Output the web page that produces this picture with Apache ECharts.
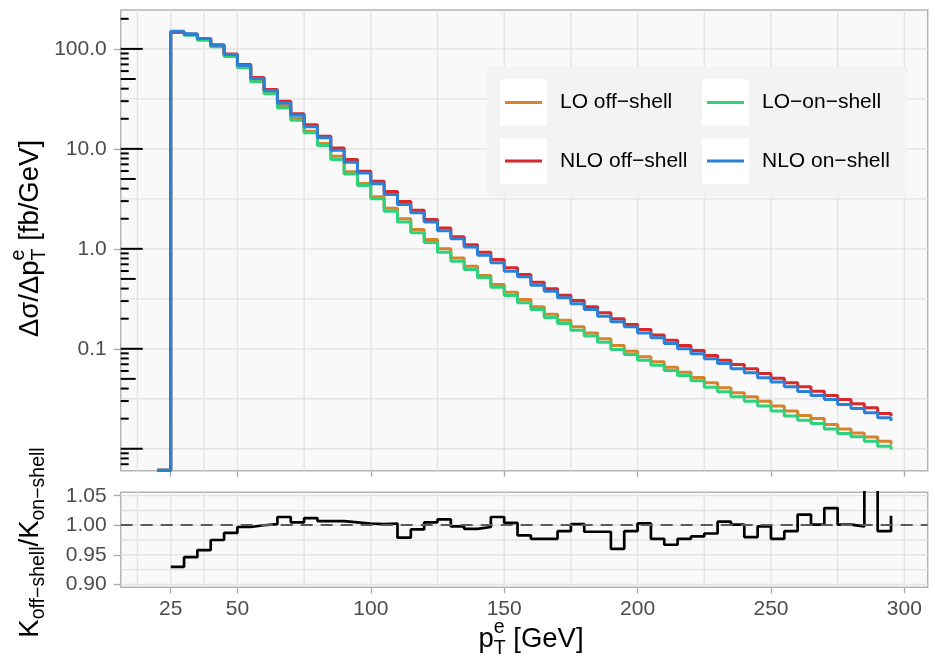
<!DOCTYPE html>
<html><head><meta charset="utf-8">
<script src="https://cdn.jsdelivr.net/npm/echarts@6/dist/echarts.min.js"></script>
<style>html,body{margin:0;padding:0;background:#fff}#c{width:935px;height:661px}</style>
</head><body><div id="c"></div>
<script>
// ---------- data ----------
const pTEdges = [20,25,30,35,40,45,50,55,60,65,70,75,80,85,90,95,100,105,110,115,120,125,130,135,140,145,150,155,160,165,170,175,180,185,190,195,200,205,210,215,220,225,230,235,240,245,250,255,260,265,270,275,280,285,290,295];
const loOffShell = [0.0061,147,139,124,106,85.7,66.1,48.5,36.8,27.1,20.1,15.0,11.3,8.43,5.89,4.50,3.31,2.55,2.00,1.56,1.24,1.00,0.81,0.67,0.54,0.44,0.368,0.311,0.263,0.222,0.193,0.166,0.144,0.126,0.108,0.0946,0.0832,0.0741,0.0655,0.0583,0.0516,0.0457,0.0407,0.0363,0.0331,0.0299,0.0267,0.0238,0.0215,0.0201,0.0175,0.0158,0.0144,0.0131,0.0119,0.0110];
const nloOffShell = [0.0061,147,140,127,110,89.1,69.7,51.6,39.2,29.9,22.5,17.4,13.4,10.2,7.82,5.97,4.74,3.74,2.97,2.43,1.96,1.62,1.32,1.10,0.925,0.78,0.645,0.553,0.464,0.398,0.344,0.304,0.263,0.229,0.200,0.175,0.156,0.137,0.122,0.108,0.0962,0.0857,0.0769,0.0697,0.0631,0.0566,0.0508,0.0457,0.0417,0.0377,0.0341,0.0311,0.0282,0.0257,0.0225,0.0212];
const loOnShell = [0.0061,147,137,122,105,83.8,64.6,46.8,35.5,25.7,19.3,14.5,10.8,7.82,5.62,4.30,3.16,2.38,1.86,1.45,1.16,0.925,0.752,0.621,0.513,0.413,0.341,0.288,0.247,0.206,0.179,0.153,0.134,0.116,0.0984,0.0877,0.0769,0.0686,0.0607,0.0541,0.0479,0.0413,0.0371,0.0331,0.0299,0.0267,0.0238,0.0212,0.0193,0.0179,0.0158,0.0142,0.0132,0.0119,0.0106,0.0098];
const nloOnShell = [0.0061,150,142,127,109,87.7,68.1,50.5,38.3,28.8,21.7,16.6,12.9,9.68,7.35,5.75,4.47,3.49,2.77,2.29,1.85,1.52,1.26,1.04,0.863,0.724,0.597,0.525,0.433,0.377,0.324,0.282,0.247,0.212,0.186,0.166,0.144,0.129,0.113,0.100,0.0891,0.0794,0.0713,0.0631,0.0575,0.0513,0.0464,0.0417,0.0374,0.0341,0.0311,0.0277,0.0253,0.0229,0.0204,0.0189];
const ratioEdges = [25,30,35,40,45,50,55,60,65,70,75,80,85,90,95,100,105,110,115,120,125,130,135,140,145,150,155,160,165,170,175,180,185,190,195,200,205,210,215,220,225,230,235,240,245,250,255,260,265,270,275,280,285,290,295];
const kRatio = [0.9295,0.946,0.958,0.975,0.987,0.997,1.000,1.002,1.014,1.005,1.012,1.007,1.007,1.005,1.003,1.002,1.003,0.979,0.993,1.005,1.010,0.998,0.994,0.997,1.014,1.004,0.983,0.977,0.977,0.990,1.002,0.989,0.989,0.960,0.990,1.003,0.977,0.967,0.977,0.981,0.986,1.006,1.001,0.980,0.998,0.977,0.990,1.018,1.001,1.029,1.001,0.998,1.090,0.990,1.016];
const xTickValues = [25,50,100,150,200,250,300];
const xGridValues = [12.5,25,37.5,50,75,100,125,150,175,200,225,250,275,300];
const yTickValues = [0.1,1,10,100];
const yGridValues = [0.01,0.0316228,0.1,0.316228,1,3.16228,10,31.6228,100];
const ratioTickValues = [0.90,0.95,1.00,1.05];
const ratioGridValues = [0.90,0.925,0.95,0.975,1.00,1.025,1.05];
const seriesNames = ['LO off\u2212shell','LO\u2212on\u2212shell','NLO off\u2212shell','NLO on\u2212shell'];
const seriesColors = ['#D8822C','#2DD27B','#D7282B','#2B80D8'];

// ---------- layout / style ----------
const FONT = '"Liberation Sans", Arial, Helvetica, sans-serif';
const X_MIN = 6.25, X_MAX = 308.75;
const Y_MIN = 0.00603, Y_MAX = 245;
const R_MIN = 0.8949, R_MAX = 1.0558;
const GRID_COLOR = '#e2e2e2';
const TICK_COLOR = '#a8a8a8';

const pair = (xs, ys) => xs.map((x, i) => [x, ys[i]]);

function histSeries(idx, ys, z) {
  const c = seriesColors[idx];
  return {name: seriesNames[idx], type: 'line', xAxisIndex: 0, yAxisIndex: 0, step: 'end',
    data: pair(pTEdges, ys), symbol: 'none', showSymbol: false, z: z,
    color: c, itemStyle: {color: c}, lineStyle: {color: c, width: 3}, animation: false};
}
function vGrid(gi, yRef) {
  return {type: 'custom', xAxisIndex: gi, yAxisIndex: gi, z: 1, silent: true, animation: false,
    data: xGridValues.map(v => [v, yRef]),
    renderItem(params, api) {
      const cs = params.coordSys; const x = api.coord([api.value(0), yRef])[0];
      return {type: 'line', shape: {x1: x, y1: cs.y, x2: x, y2: cs.y + cs.height},
        style: {stroke: GRID_COLOR, lineWidth: 1.3}};
    }};
}
function hGrid(gi, vals) {
  return {type: 'custom', xAxisIndex: gi, yAxisIndex: gi, z: 1, silent: true, animation: false,
    data: vals.map(v => [100, v]),
    renderItem(params, api) {
      const cs = params.coordSys; const y = api.coord([100, api.value(1)])[1];
      return {type: 'line', shape: {x1: cs.x, y1: y, x2: cs.x + cs.width, y2: y},
        style: {stroke: GRID_COLOR, lineWidth: 1.3}};
    }};
}
// annotation log ticks (positions at m*10^k)
const logTicks = [];
for (let k = -3; k <= 2; k++) for (let m = 1; m <= 9; m++) {
  const v = m * Math.pow(10, k);
  if (v >= Y_MIN && v <= Y_MAX) logTicks.push([X_MIN, v, m === 1 ? 22 : (m === 5 ? 15 : 8)]);
}
const logTickSeries = {type: 'custom', xAxisIndex: 0, yAxisIndex: 0, z: 5, silent: true, animation: false,
  data: logTicks,
  renderItem(params, api) {
    const cs = params.coordSys; const y = api.coord([X_MIN, api.value(1)])[1];
    return {type: 'line', shape: {x1: cs.x, y1: y, x2: cs.x + api.value(2), y2: y},
      style: {stroke: '#000', lineWidth: 2}};
  }};

// ---------- titles (real text, laid out with measured widths) ----------
const ctx = document.createElement('canvas').getContext('2d');
function mw(t, s) { ctx.font = s + 'px ' + FONT; return ctx.measureText(t).width; }
function title(runs, cx, cy, rot) {
  const widths = runs.map(r => r.stack ? Math.max(...r.stack.map(q => mw(q.t, q.s))) : mw(r.t, r.s));
  const total = widths.reduce((a, b) => a + b, 0);
  let x = -total / 2; const children = [];
  runs.forEach((r, i) => {
    (r.stack || [r]).forEach(q => children.push({type: 'text', x: x, y: q.dy || 0,
      style: {text: q.t, fontSize: q.s, fontFamily: FONT, fill: '#000', align: 'left', verticalAlign: 'middle'}}));
    x += widths[i];
  });
  return {type: 'group', x: cx, y: cy, rotation: rot ? Math.PI / 2 : 0, z: 10, children};
}
const TS = 27.5, SS = 19.5;
const graphics = [
  {type: 'rect', z: 3, shape: {x: 487, y: 66.5, width: 419.7, height: 130.2}, style: {fill: '#f3f3f3'}, silent: true},
  {type: 'rect', z: 3, shape: {x: 500, y: 79.3, width: 46.7, height: 46.5}, style: {fill: '#ffffff'}, silent: true},
  {type: 'rect', z: 3, shape: {x: 500, y: 138.3, width: 46.7, height: 46}, style: {fill: '#ffffff'}, silent: true},
  {type: 'rect', z: 3, shape: {x: 702, y: 79.3, width: 46.7, height: 46.5}, style: {fill: '#ffffff'}, silent: true},
  {type: 'rect', z: 3, shape: {x: 702, y: 138.3, width: 46.7, height: 46}, style: {fill: '#ffffff'}, silent: true},
  title([{t: '\u0394\u03c3/\u0394p', s: TS}, {stack: [{t: 'e', s: SS, dy: -11}, {t: 'T', s: SS, dy: 10}]}, {t: ' [fb/GeV]', s: TS}], 30, 238.5, true),
  title([{t: 'K', s: TS}, {t: 'off\u2212shell', s: SS, dy: 9}, {t: '/', s: TS}, {t: 'K', s: TS}, {t: 'on\u2212shell', s: SS, dy: 9}], 30, 542.5, true),
  title([{t: 'p', s: TS}, {stack: [{t: 'e', s: SS, dy: -11}, {t: 'T', s: SS, dy: 10}]}, {t: ' [GeV]', s: TS}], 531, 639, false)
];

const legendCommon = {orient: 'vertical', icon: 'rect', itemWidth: 37, itemHeight: 3, itemGap: 34.5,
  padding: 0, selectedMode: false, z: 6,
  textStyle: {fontSize: 21, fontFamily: FONT, color: '#000', lineHeight: 24, padding: [0, 0, 0, 13]}};

const axisLabelStyle = {fontSize: 21, fontFamily: FONT, color: '#4d4d4d'};

const option = {
  animation: false,
  backgroundColor: '#ffffff',
  grid: [
    {left: 120.7, top: 10, width: 807, height: 460.7, show: true, backgroundColor: '#f9f9f9', borderColor: '#b3b3b3', borderWidth: 1.5},
    {left: 120.7, top: 492.3, width: 807, height: 95, show: true, backgroundColor: '#f9f9f9', borderColor: '#b3b3b3', borderWidth: 1.5}
  ],
  xAxis: [
    {type: 'value', gridIndex: 0, min: X_MIN, max: X_MAX, axisLine: {show: false}, splitLine: {show: false},
      axisLabel: {show: false, customValues: xTickValues},
      axisTick: {show: true, length: 6, customValues: xTickValues, lineStyle: {color: TICK_COLOR, width: 1.3}}},
    {type: 'value', gridIndex: 1, min: X_MIN, max: X_MAX, axisLine: {show: false}, splitLine: {show: false},
      axisLabel: Object.assign({show: true, margin: 11, customValues: xTickValues}, axisLabelStyle),
      axisTick: {show: true, length: 6, customValues: xTickValues, lineStyle: {color: TICK_COLOR, width: 1.3}}}
  ],
  yAxis: [
    {type: 'log', logBase: 10, gridIndex: 0, min: Y_MIN, max: Y_MAX, axisLine: {show: false}, splitLine: {show: false},
      axisLabel: Object.assign({show: true, margin: 14, customValues: yTickValues,
        formatter: v => (v >= 1 ? Number(v).toFixed(1) : String(Number(v)))}, axisLabelStyle),
      axisTick: {show: true, length: 7, customValues: yTickValues, lineStyle: {color: TICK_COLOR, width: 1.3}}},
    {type: 'value', gridIndex: 1, min: R_MIN, max: R_MAX, axisLine: {show: false}, splitLine: {show: false},
      axisLabel: Object.assign({show: true, margin: 14, customValues: ratioTickValues,
        formatter: v => Number(v).toFixed(2)}, axisLabelStyle),
      axisTick: {show: true, length: 7, customValues: ratioTickValues, lineStyle: {color: TICK_COLOR, width: 1.3}}}
  ],
  legend: [
    Object.assign({left: 505, top: 90.5, data: [seriesNames[0], seriesNames[2]]}, legendCommon),
    Object.assign({left: 707, top: 90.5, data: [seriesNames[1], seriesNames[3]]}, legendCommon)
  ],
  graphic: graphics,
  series: [
    vGrid(0, 1), hGrid(0, yGridValues), vGrid(1, 1), hGrid(1, ratioGridValues),
    histSeries(0, loOffShell, 3),
    histSeries(1, loOnShell, 3),
    histSeries(2, nloOffShell, 3),
    histSeries(3, nloOnShell, 3),
    logTickSeries,
    {name: 'ratio', type: 'line', xAxisIndex: 1, yAxisIndex: 1, step: 'end', data: pair(ratioEdges, kRatio),
      symbol: 'none', showSymbol: false, z: 3, color: '#000', lineStyle: {color: '#000', width: 2.7},
      markLine: {silent: true, symbol: 'none', label: {show: false}, animation: false,
        lineStyle: {color: '#5a5a5a', type: [12, 8], width: 2}, data: [{yAxis: 1}]}}
  ]
};
const chart = echarts.init(document.getElementById('c'), null, {renderer: 'canvas'});
chart.setOption(option);
</script></body></html>
